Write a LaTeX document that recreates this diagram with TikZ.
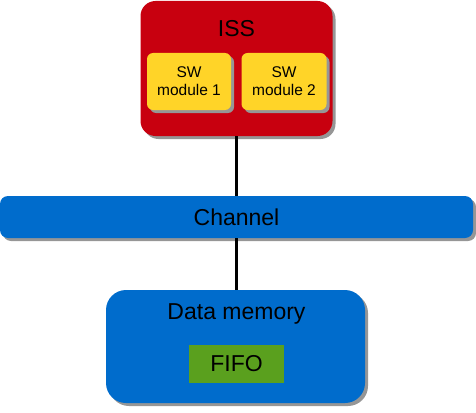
\documentclass[tikz,border=0pt]{standalone}
\usepackage{fontspec}
\setmainfont{Liberation Sans}
\usetikzlibrary{shadows}
\definecolor{issred}{RGB}{200,0,15}
\definecolor{swyellow}{RGB}{255,212,40}
\definecolor{busblue}{RGB}{0,108,204}
\definecolor{fifogreen}{RGB}{90,160,30}
\definecolor{shadowgray}{RGB}{150,150,150}
\begin{document}
\begin{tikzpicture}[x=1pt,y=-1pt,
    box/.style={draw=none,rounded corners=#1,inner sep=0pt,
      drop shadow={shadow xshift=3pt,shadow yshift=-3pt,fill=shadowgray,opacity=1}},
    big/.style={font=\fontsize{23}{26}\selectfont},
    small/.style={font=\fontsize{15.5}{18}\selectfont,align=center},
    wire/.style={line width=2.6pt}]
  \useasboundingbox (0,0) rectangle (476,412);
  % processor with its software
  \node[box=15pt,fill=issred,minimum width=192pt,minimum height=135pt]
    (iss) at (236.5,68.5) {};
  \node[big] (isslabel) at (236.5,29) {ISS};
  \node[box=6pt,fill=swyellow,minimum width=84pt,minimum height=57pt,small]
    (sw1) at (189,81.5) {SW\\module 1};
  \node[box=6pt,fill=swyellow,minimum width=85pt,minimum height=57pt,small]
    (sw2) at (284,81.5) {SW\\module 2};
  % bus
  \node[box=8pt,fill=busblue,minimum width=473pt,minimum height=42pt,big]
    (channel) at (236.5,217) {Channel};
  % memory
  \node[box=20pt,fill=busblue,minimum width=259pt,minimum height=113pt]
    (mem) at (235.5,346.5) {};
  \node[big] (memlabel) at (236.5,314) {Data memory};
  \node[fill=fifogreen,minimum width=95pt,minimum height=38pt,inner sep=0pt,big]
    (fifo) at (236.5,364) {FIFO};
  \draw[wire] (iss.south) -- (channel.north);
  \draw[wire] (channel.south) -- (channel.south |- mem.north);
\end{tikzpicture}
\end{document}
